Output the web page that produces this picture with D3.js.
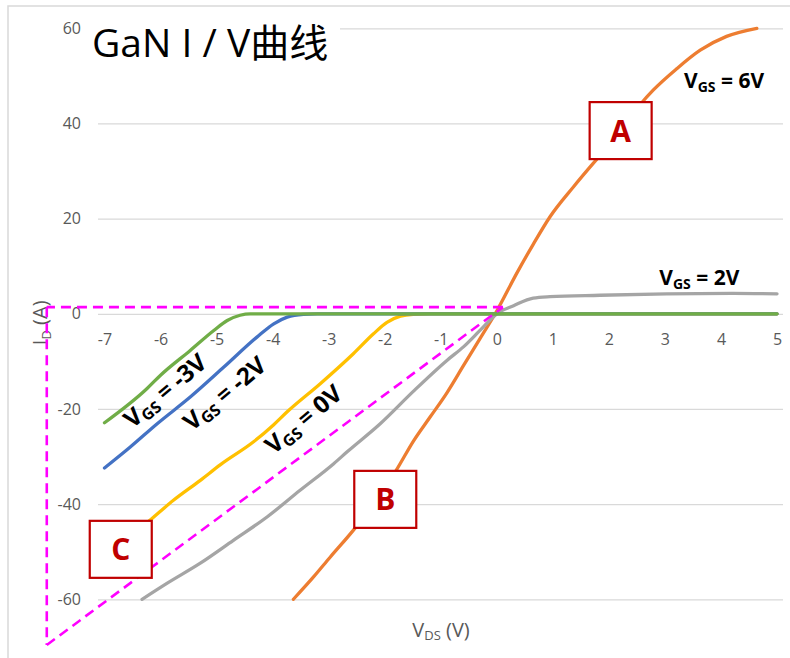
<!DOCTYPE html>
<html>
<head>
<meta charset="utf-8">
<script src="https://cdn.jsdelivr.net/npm/d3@7"></script>
<style>
  html, body { margin: 0; padding: 0; background: #fff; }
  svg { display: block; }
  text { font-family: "Open Sans", "Noto Sans CJK SC", sans-serif; }
</style>
</head>
<body>
<svg id="chart" width="790" height="658"></svg>
<script>
// Axis ticks
const xTicks = [-7, -6, -5, -4, -3, -2, -1, 0, 1, 2, 3, 4, 5];
const yTicks = [-60, -40, -20, 0, 20, 40, 60];

// Drain current I_D (A) versus drain-source voltage V_DS (V), one array per gate voltage
const vgs6 = [
  [-3.63, -60], [-3.27, -55.3], [-2.97, -51.1], [-2.54, -45.2], [-1.79, -32.8],
  [-1.49, -26.8], [-1.19, -21.7], [-0.89, -16.6], [-0.59, -10.8], [-0.30, -5.2],
  [0, 0.6], [0.36, 8.6], [0.65, 14.6], [0.95, 20.4], [1.37, 26.7], [1.72, 31.6],
  [2.14, 37.2], [2.56, 44.0], [2.79, 47.0], [3.21, 51.5], [3.63, 55.4], [4.10, 58.3], [4.64, 60]
];
const vgs2 = [
  [-6.33, -60], [-5.88, -56.6], [-5.29, -52.4], [-4.70, -47.6], [-4.10, -42.7],
  [-3.51, -37.1], [-2.91, -31.5], [-2.67, -29.0], [-2.08, -23.1], [-1.49, -16.3],
  [-0.89, -9.8], [-0.59, -6.9], [-0.30, -3.5], [0, 0], [0.30, 1.7], [0.65, 3.3],
  [0.95, 3.6], [1.84, 3.9], [3.03, 4.2], [4.22, 4.3], [5, 4.2]
];
const vgs0 = [
  [-7, -51], [-6.19, -43.4], [-5.77, -39.2], [-5.29, -35.0], [-4.93, -31.7],
  [-4.34, -26.9], [-3.98, -23.3], [-3.74, -20.6], [-3.15, -14.7], [-2.56, -8.4],
  [-2.20, -4.2], [-1.96, -1.8], [-1.72, -0.5], [-1.49, -0.1], [-1.2, 0], [5, 0]
];
const vgsM2 = [
  [-7, -32.4], [-6.54, -28.0], [-6.06, -23.1], [-5.47, -17.5], [-4.87, -11.2],
  [-4.28, -4.9], [-3.98, -2.1], [-3.74, -0.7], [-3.45, -0.1], [-3.2, 0], [5, 0]
];
const vgsM3 = [
  [-7, -22.9], [-6.24, -15.7], [-6.0, -12.9], [-5.47, -7.7], [-5.05, -3.5],
  [-4.81, -1.4], [-4.58, -0.3], [-4.4, 0], [5, 0]
];

const seriesNames = ["V_GS = 6V", "V_GS = 2V", "V_GS = 0V", "V_GS = -2V", "V_GS = -3V"];
const seriesData = [vgs6, vgs2, vgs0, vgsM2, vgsM3];
const seriesColors = ["#ED7D31", "#A5A5A5", "#FFC000", "#4472C4", "#70AD47"];

// Dashed reference triangle (in V, A)
const triTop = [0.11, 1.4];
const triCorner = [-8.03, 1.4];
const triBottom = [-8.03, -69.6];

// Region markers A / B / C (centre, in V, A)
const regionLabels = ["A", "B", "C"];
const regionCentres = [[2.21, 38.5], [-1.99, -39.0], [-6.71, -49.5]];

// Curve labels: [main, subscript, rest], anchor (V, A), rotation, size
const curveLabels = [
  { parts: ["V", "GS", " = 6V"], at: [3.34, 47.4], rot: 0, size: 21 },
  { parts: ["V", "GS", " = 2V"], at: [2.90, 6.05], rot: 0, size: 21 },
  { parts: ["V", "GS", " = -3V"], at: [-6.50, -24.2], rot: -40, size: 24 },
  { parts: ["V", "GS", " = -2V"], at: [-5.44, -24.8], rot: -40, size: 24 },
  { parts: ["V", "GS", " = 0V"], at: [-3.98, -29.7], rot: -40, size: 24 }
];

const svg = d3.select("#chart");
const x = d3.scaleLinear().domain([-7, 5]).range([104.5, 777]);
const y = d3.scaleLinear().domain([-60, 60]).range([599.3, 28.3]);
const plotLeft = 98, plotRight = 783;
const plainNumber = d => String(d);

// chart frame
svg.append("rect")
  .attr("x", 8).attr("y", 6).attr("width", 800).attr("height", 700)
  .attr("fill", "#fff").attr("stroke", "#d9d9d9").attr("stroke-width", 1.5);

// value axis with gridlines
const yAxis = svg.append("g")
  .attr("transform", `translate(${plotLeft},0)`)
  .call(d3.axisLeft(y).tickValues(yTicks).tickFormat(plainNumber)
    .tickSize(-(plotRight - plotLeft)).tickPadding(17));
yAxis.select(".domain").remove();
yAxis.selectAll(".tick line").attr("stroke", "#d9d9d9").attr("stroke-width", 1.3);
yAxis.selectAll(".tick text").attr("fill", "#595959").style("font-size", "16px")
  .style("font-family", "'Open Sans', sans-serif");

// category axis labels, under the zero line
const xAxis = svg.append("g")
  .attr("transform", `translate(0,${y(0)})`)
  .call(d3.axisBottom(x).tickValues(xTicks).tickFormat(plainNumber).tickSize(0).tickPadding(20));
xAxis.select(".domain").remove();
xAxis.selectAll(".tick text").attr("fill", "#595959").style("font-size", "16px")
  .style("font-family", "'Open Sans', sans-serif");

// axis titles
const yTitle = svg.append("text")
  .attr("transform", `translate(47,${y(0) + 9}) rotate(-90)`)
  .attr("text-anchor", "middle")
  .attr("fill", "#595959").style("font-size", "20px");
yTitle.append("tspan").text("I");
yTitle.append("tspan").text("D").style("font-size", "13px").attr("dy", "4");
yTitle.append("tspan").text(" (A)").attr("dy", "-4");

const xTitle = svg.append("text")
  .attr("x", 441).attr("y", 637)
  .attr("text-anchor", "middle")
  .attr("fill", "#595959").style("font-size", "20px");
xTitle.append("tspan").text("V");
xTitle.append("tspan").text("DS").style("font-size", "13px").attr("dy", "3");
xTitle.append("tspan").text(" (V)").attr("dy", "-3");

// curves
const line = d3.line().x(d => x(d[0])).y(d => y(d[1])).curve(d3.curveMonotoneX);
svg.append("g").selectAll("path")
  .data(seriesData)
  .join("path")
  .attr("d", line)
  .attr("fill", "none")
  .attr("stroke", (d, i) => seriesColors[i])
  .attr("stroke-width", 3.3)
  .attr("stroke-linejoin", "round")
  .attr("stroke-linecap", "round")
  .append("title").text((d, i) => seriesNames[i]);

// title on a white panel
svg.append("rect").attr("x", 88).attr("y", 16).attr("width", 252).attr("height", 52).attr("fill", "#fff");
svg.append("text")
  .attr("x", 92).attr("y", 57)
  .attr("fill", "#000")
  .style("font-size", "39px")
  .text("GaN I / V曲线");

// curve labels
curveLabels.forEach(c => {
  const t = svg.append("text")
    .attr("transform", `translate(${x(c.at[0])},${y(c.at[1])}) rotate(${c.rot})`)
    .attr("fill", "#000").style("font-size", c.size + "px").style("font-weight", "bold");
  t.append("tspan").text(c.parts[0]);
  t.append("tspan").text(c.parts[1]).style("font-size", Math.round(c.size * 0.66) + "px").attr("dy", "4");
  t.append("tspan").text(c.parts[2]).attr("dy", "-4");
});

// dashed triangle
const dashStyle = s => s.attr("stroke", "#FF00FF").attr("stroke-width", 2.6)
  .attr("stroke-dasharray", "10,6").attr("fill", "none");
[[triTop, triCorner], [triCorner, triBottom], [triBottom, triTop]].forEach(seg => {
  svg.append("line")
    .attr("x1", x(seg[0][0])).attr("y1", y(seg[0][1]))
    .attr("x2", x(seg[1][0])).attr("y2", y(seg[1][1]))
    .call(dashStyle);
});

// region markers
const boxW = 62, boxH = 57;
const regions = svg.append("g").selectAll("g")
  .data(regionLabels)
  .join("g")
  .attr("transform", (d, i) => `translate(${x(regionCentres[i][0])},${y(regionCentres[i][1])})`);
regions.append("rect")
  .attr("x", -boxW / 2).attr("y", -boxH / 2).attr("width", boxW).attr("height", boxH)
  .attr("fill", "#fff").attr("stroke", "#C00000").attr("stroke-width", 2.2);
regions.append("text")
  .attr("text-anchor", "middle").attr("y", 11)
  .attr("fill", "#C00000").style("font-size", "30px").style("font-weight", "bold")
  .text(d => d);
</script>
</body>
</html>
